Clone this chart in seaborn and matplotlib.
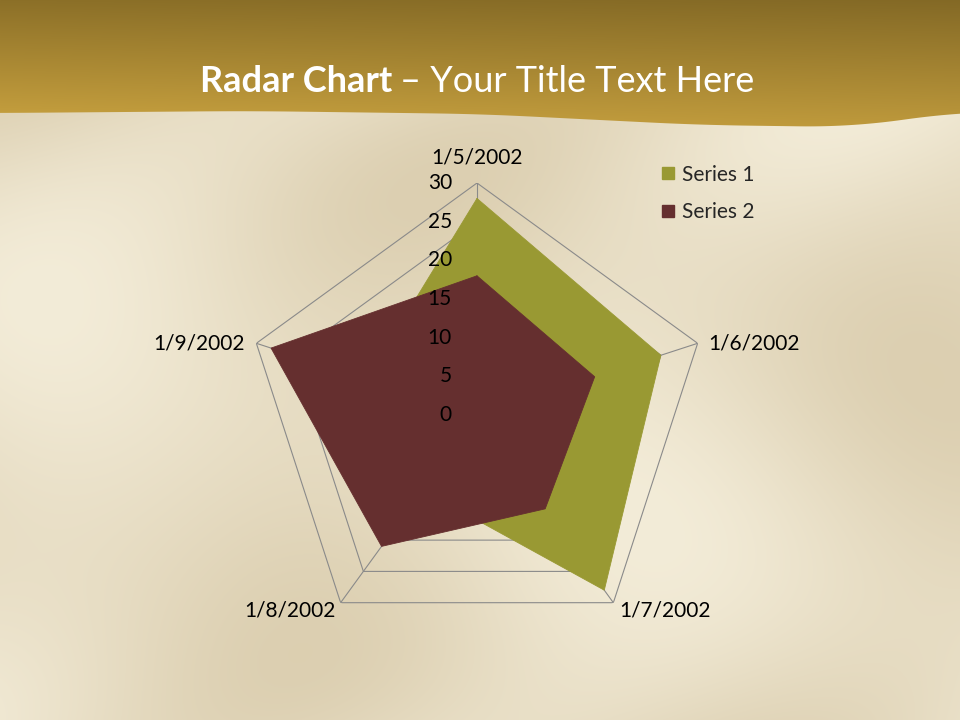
import numpy as np
import matplotlib
matplotlib.use("Agg")
import matplotlib.pyplot as plt
import seaborn as sns
from matplotlib.lines import Line2D
from matplotlib.patches import Polygon

# data
categories = ["1/5/2002", "1/6/2002", "1/7/2002", "1/8/2002", "1/9/2002"]
series1 = [28, 25, 28, 12, 15]
series2 = [18, 16, 15, 21, 28]
series_names = ["Series 1", "Series 2"]
r_ticks = [0, 5, 10, 15, 20, 25, 30]

sns.set_theme(style="white")
plt.rcParams["font.family"] = ["Lato", "DejaVu Sans"]

colors = ["#999933", "#652f2f"]

fig = plt.figure(figsize=(9.6, 7.2), dpi=100)

# sandy background
bg = fig.add_axes([0, 0, 1, 1])
bg.set_xlim(0, 960)
bg.set_ylim(720, 0)
bg.axis("off")
yy, xx = np.mgrid[0:720, 0:960]
u = xx / 960.0
v = yy / 720.0
w = np.sin(2 * np.pi * (1.6 * u + 1.1 * v + 0.25 * np.sin(2 * np.pi * v * 0.8)))
w2 = np.sin(2 * np.pi * (0.7 * u - 1.4 * v + 0.3))
shade = np.clip(0.55 * w + 0.45 * w2, -1, 1)
shade = (shade + 1) / 2
light = np.array([243, 236, 216]) / 255.0
dark = np.array([216, 202, 170]) / 255.0
img = light * (1 - shade[..., None] * 0.85) + dark * (shade[..., None] * 0.85)
bg.imshow(img, extent=(0, 960, 720, 0), aspect="auto", zorder=0)

# golden header band with wavy bottom
wx = np.linspace(0, 960, 200)
wave_x = [0, 250, 480, 700, 850, 960]
wave_y = [113, 111, 114, 125, 127, 112]
wy = np.interp(wx, wave_x, wave_y)
wy = np.convolve(np.pad(wy, 10, mode="edge"), np.ones(21) / 21, mode="valid")
verts = [(0, 0), (960, 0)] + list(zip(wx[::-1], wy[::-1]))
band = Polygon(verts, closed=True, facecolor="none", edgecolor="none")
bg.add_patch(band)
gy, gx = np.mgrid[0:140, 0:960]
t = gy / 140.0
top = np.array([140, 112, 40]) / 255.0
bot = np.array([208, 168, 66]) / 255.0
grad = top * (1 - t[..., None]) + bot * t[..., None]
grad = grad * (1 - 0.06 * (gx / 960.0)[..., None])
gim = bg.imshow(grad, extent=(0, 960, 140, 0), aspect="auto", zorder=1)
gim.set_clip_path(band)

fig.text(392 / 960, 1 - 82 / 720, "Radar Chart", ha="right", va="center",
         fontsize=26, fontweight="bold", color="white")
fig.text(400 / 960, 1 - 82 / 720, "\u2013 Your Title Text Here", ha="left", va="center",
         fontsize=26, color="white")

# radar
cx, cy, R = 477, 415, 232
ax = fig.add_axes([(cx - R) / 960, 1 - (cy + R) / 720, 2 * R / 960, 2 * R / 720],
                  projection="polar")
ax.set_facecolor("none")
ax.set_theta_offset(np.pi / 2)
ax.set_theta_direction(-1)
ax.set_ylim(0, r_ticks[-1])
ax.grid(False)
ax.spines["polar"].set_visible(False)
ax.set_xticks([])
ax.set_yticks([])

n = len(categories)
theta = np.linspace(0, 2 * np.pi, n, endpoint=False)
theta_c = np.append(theta, theta[0])

grid_col = "#8a8a8a"
for r in r_ticks[1:]:
    ax.plot(theta_c, [r] * (n + 1), color=grid_col, lw=0.8, zorder=1)
for th in theta:
    ax.plot([th, th], [0, r_ticks[-1]], color=grid_col, lw=0.8, zorder=1)

for vals, col in zip([series1, series2], colors):
    vc = np.append(vals, vals[0])
    ax.fill(theta_c, vc, color=col, zorder=2, lw=0)
    sns.lineplot(x=theta_c, y=vc, sort=False, estimator=None, ax=ax,
                 color=col, lw=0.6, zorder=2, legend=False)

for r in r_ticks:
    ax.annotate(str(r), xy=(0, r), xytext=(-25, 0), textcoords="offset pixels",
                ha="right", va="center", fontsize=15, color="black", zorder=5)

offsets = [((0, 26), "center", "center"),
           ((11, 0), "left", "center"),
           ((6, -8), "left", "center"),
           ((-5, -8), "right", "center"),
           ((-12, 0), "right", "center")]
for th, lab, (off, ha, va) in zip(theta, categories, offsets):
    ax.annotate(lab, xy=(th, r_ticks[-1]), xytext=off, textcoords="offset pixels",
                ha=ha, va=va, fontsize=15, color="black", annotation_clip=False)

handles = [Line2D([], [], marker="s", ls="", markersize=8, color=c) for c in colors]
fig.legend(handles, series_names, loc="upper left",
           bbox_to_anchor=(639 / 960, 1 - 146 / 720), frameon=False,
           fontsize=15, handletextpad=0.15, labelspacing=0.85, handlelength=1.0)

fig.savefig("out.png", dpi=100)
